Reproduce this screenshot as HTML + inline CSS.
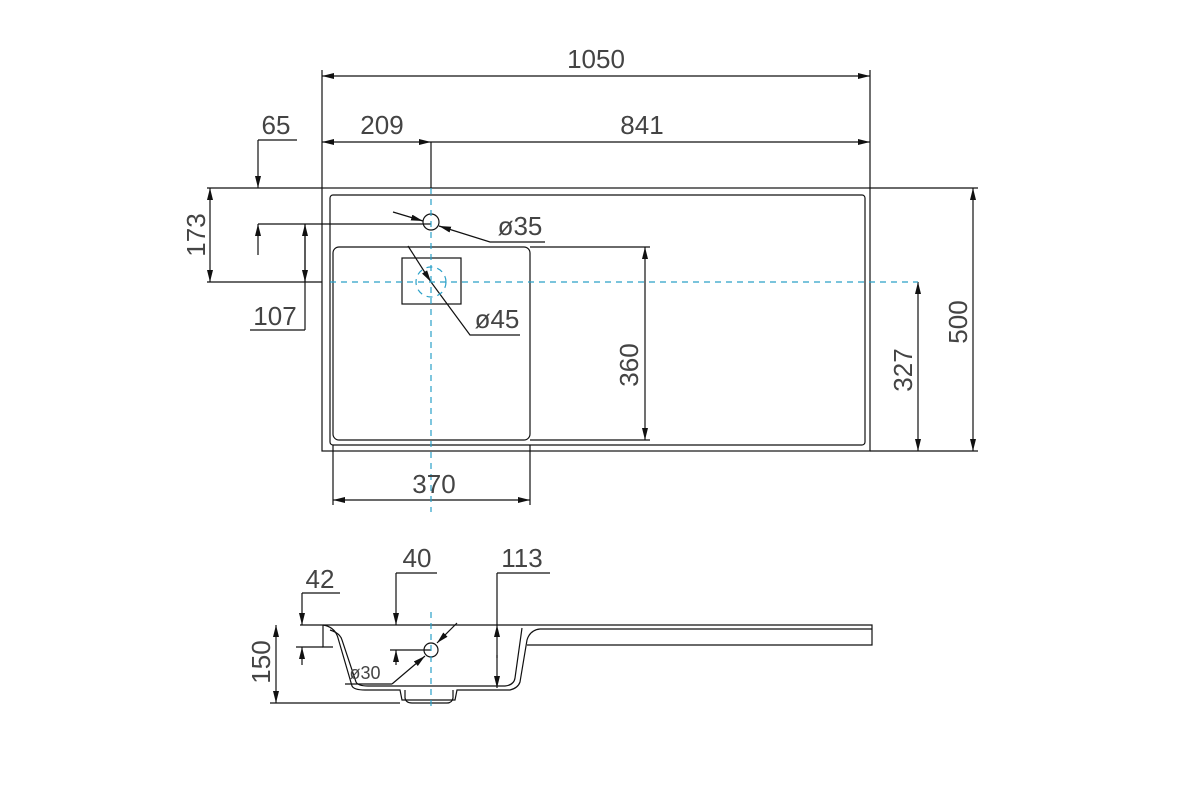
<!DOCTYPE html>
<html><head><style>body{margin:0;background:#fff}svg{display:block}text{font-family:"Liberation Sans",sans-serif;fill:#444}</style></head>
<body>
<svg width="1200" height="800" viewBox="0 0 1200 800" xmlns="http://www.w3.org/2000/svg">
<defs>
<marker id="a" viewBox="0 0 12 6" refX="12" refY="3" markerWidth="12" markerHeight="6" orient="auto-start-reverse" markerUnits="userSpaceOnUse"><path d="M0,0L12,3L0,6z" fill="#111"/></marker>
</defs>
<g stroke="#111" stroke-width="1.2" fill="none">
<rect x="322" y="188" width="548" height="263"/>
<rect x="330" y="195" width="535" height="250" rx="3"/>
<rect x="333" y="247" width="197" height="193" rx="6"/>
<rect x="402" y="258" width="59" height="46"/>
<circle cx="431" cy="222" r="8"/>
<path d="M322 70V188M870 70V188M431 142V188M207 188H322M870 188H978M207 282H322M258 224H431M250 330H305M530 247H650M530 440H650M870 451H978M333 445V505M530 445V505M258 140H297"/>
<path d="M322 76H870" marker-start="url(#a)" marker-end="url(#a)"/>
<path d="M322 142H431" marker-start="url(#a)" marker-end="url(#a)"/>
<path d="M431 142H870" marker-end="url(#a)"/>
<path d="M258 140V188" marker-end="url(#a)"/>
<path d="M258 255V224" marker-end="url(#a)"/>
<path d="M210 188V282" marker-start="url(#a)" marker-end="url(#a)"/>
<path d="M305 330V224" marker-end="url(#a)"/>
<path d="M305 224V282" marker-end="url(#a)"/>
<path d="M645 247V440" marker-start="url(#a)" marker-end="url(#a)"/>
<path d="M918 282V451" marker-start="url(#a)" marker-end="url(#a)"/>
<path d="M973 188V451" marker-start="url(#a)" marker-end="url(#a)"/>
<path d="M333 500H530" marker-start="url(#a)" marker-end="url(#a)"/>
<path d="M393 212L423 221" marker-end="url(#a)"/>
<path d="M545 242H490L439 226" marker-end="url(#a)"/>
<path d="M408 246L431 282" marker-end="url(#a)"/>
<path d="M520 335H470L431 282"/>
<path d="M300 625H872V645H527"/>
<path d="M323 625V647H333"/>
<path d="M323 625Q335 627 338 638L352 686Q354 690 365 690H400L402 700H455L457 690H510Q518 688 520 682L527 640Q530 630 540 629H872"/>
<path d="M330 630Q340 633 342 640L356 682Q358 686 368 686H505Q514 685 515 678L522 628"/>
<path d="M405 690V698Q406 703 412 703H447Q452 703 453 698V690"/>
<circle cx="431" cy="650" r="7"/>
<path d="M270 703H400M296 647H323M390 650H431"/>
<path d="M276 625V703" marker-start="url(#a)" marker-end="url(#a)"/>
<path d="M302 593H340M302 593V625" marker-end="url(#a)"/>
<path d="M302 665V647" marker-end="url(#a)"/>
<path d="M396 573H437M396 573V625" marker-end="url(#a)"/>
<path d="M396 665V650" marker-end="url(#a)"/>
<path d="M497 573H550M497 573V625"/>
<path d="M497 658V625" marker-end="url(#a)"/>
<path d="M497 655V688" marker-end="url(#a)"/>
<path d="M457 623L437 643" marker-end="url(#a)"/>
<path d="M392 684H345M392 684L425 656" marker-end="url(#a)"/>
</g>
<g stroke="#2aa0c8" stroke-width="1.2" stroke-dasharray="6,5" fill="none">
<path d="M431 188V512M330 282H918M431 612V708"/>
<circle cx="431" cy="282" r="15"/>
</g>
<g font-size="26">
<text x="596" y="68" text-anchor="middle">1050</text>
<text x="382" y="134" text-anchor="middle">209</text>
<text x="642" y="134" text-anchor="middle">841</text>
<text x="276" y="134" text-anchor="middle">65</text>
<text x="275" y="325" text-anchor="middle">107</text>
<text x="520" y="235" text-anchor="middle">ø35</text>
<text x="497" y="328" text-anchor="middle">ø45</text>
<text x="434" y="493" text-anchor="middle">370</text>
<text transform="translate(205,235) rotate(-90)" text-anchor="middle">173</text>
<text transform="translate(638,365) rotate(-90)" text-anchor="middle">360</text>
<text transform="translate(912,370) rotate(-90)" text-anchor="middle">327</text>
<text transform="translate(967,322) rotate(-90)" text-anchor="middle">500</text>
<text transform="translate(270,662) rotate(-90)" text-anchor="middle">150</text>
<text x="320" y="588" text-anchor="middle">42</text>
<text x="417" y="567" text-anchor="middle">40</text>
<text x="522" y="567" text-anchor="middle">113</text>
<text x="365" y="679" text-anchor="middle" font-size="18">ø30</text>
</g>
</svg>
</body></html>
